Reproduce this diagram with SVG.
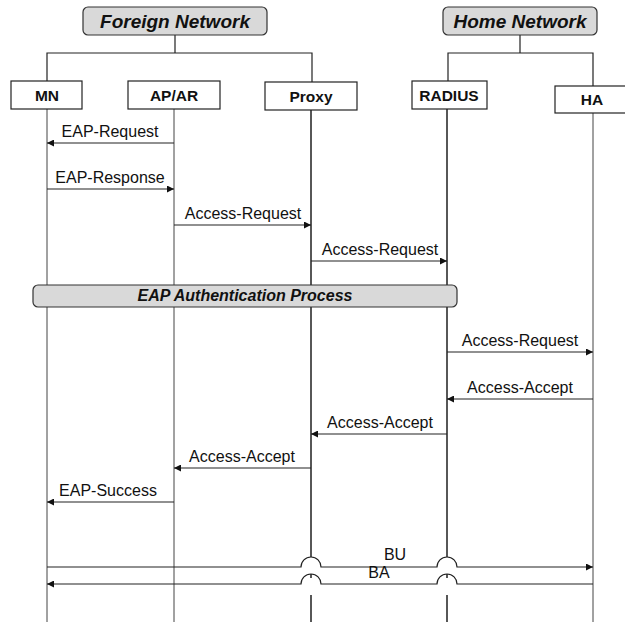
<svg xmlns="http://www.w3.org/2000/svg" width="625" height="622" viewBox="0 0 625 622">
<defs>
<marker id="ah" viewBox="0 0 10 10" refX="10" refY="5" markerWidth="8" markerHeight="7" markerUnits="userSpaceOnUse" orient="auto">
<path d="M0,0 L10,5 L0,10 z" fill="#111"/>
</marker>
<style>
.title{fill:#d9d9d9;stroke:#333;stroke-width:1.2}
.node{fill:#fff;stroke:#222;stroke-width:1.2}
.tt{font-family:"Liberation Sans",Arial,sans-serif;font-weight:bold;font-style:italic;font-size:19px;fill:#111;text-anchor:middle}
.nt{font-family:"Liberation Sans",Arial,sans-serif;font-weight:bold;font-size:15.5px;fill:#111;text-anchor:middle}
.ml{font-family:"Liberation Sans",Arial,sans-serif;font-size:16px;fill:#111;text-anchor:middle}
.ln{stroke:#222;stroke-width:1.2;fill:none}
.life{stroke:#444;stroke-width:1;fill:none}
.lifes{stroke:#111;stroke-width:1.4;fill:none}
.msg{stroke:#222;stroke-width:1.2;fill:none;marker-end:url(#ah)}
</style>
</defs>
<rect width="625" height="622" fill="#fff"/>

<g id="hierarchy">
<path class="ln" d="M175,35 V53 M47,81 V53 H312 V82"/>
<path class="ln" d="M520,35 V53 M448,81 V53 H593 V86"/>
</g>

<g id="lifelines">
<line class="life" x1="47" y1="109" x2="47" y2="622"/>
<line class="life" x1="174" y1="109" x2="174" y2="622"/>
<path class="lifes" d="M311,110 V557 M311,578 V574 M311,595 V622"/>
<path class="lifes" d="M447,109 V557 M447,578 V574 M447,595 V622"/>
<line class="life" x1="593" y1="113" x2="593" y2="622"/>
</g>

<g id="foreign-network">
<rect class="title" x="83" y="7" width="184" height="28" rx="5"/>
<text class="tt" x="175" y="28">Foreign Network</text>
</g>
<g id="home-network">
<rect class="title" x="443" y="7" width="154" height="28" rx="5"/>
<text class="tt" x="520" y="28">Home Network</text>
</g>

<g id="MN">
<rect class="node" x="11" y="81" width="71" height="28"/>
<text class="nt" x="47" y="101">MN</text>
</g>
<g id="APAR">
<rect class="node" x="128" y="81" width="92" height="28"/>
<text class="nt" x="174" y="101">AP/AR</text>
</g>
<g id="Proxy">
<rect class="node" x="265" y="82" width="92" height="28"/>
<text class="nt" x="311" y="102">Proxy</text>
</g>
<g id="RADIUS">
<rect class="node" x="412" y="81" width="75" height="28"/>
<text class="nt" x="449" y="101">RADIUS</text>
</g>
<g id="HA">
<rect class="node" x="555" y="86" width="75" height="27"/>
<text class="nt" x="592" y="105">HA</text>
</g>

<g id="eap-auth">
<rect class="title" x="33" y="285" width="424" height="22" rx="5"/>
<text class="nt" x="245" y="301" style="font-style:italic;font-size:16px">EAP Authentication Process</text>
</g>

<g id="connectors">
<line class="msg" x1="174" y1="143" x2="47" y2="143"/>
<line class="msg" x1="47" y1="189" x2="174" y2="189"/>
<line class="msg" x1="174" y1="225" x2="311" y2="225"/>
<line class="msg" x1="311" y1="261" x2="447" y2="261"/>
<line class="msg" x1="447" y1="352" x2="593" y2="352"/>
<line class="msg" x1="593" y1="399" x2="447" y2="399"/>
<line class="msg" x1="447" y1="434" x2="311" y2="434"/>
<line class="msg" x1="311" y1="468" x2="174" y2="468"/>
<line class="msg" x1="174" y1="502" x2="47" y2="502"/>
<path class="msg" d="M47,567 H301 A10,10 0 0 1 321,567 H437 A10,10 0 0 1 457,567 H593"/>
<path class="msg" d="M593,584 H457 A10,10 0 0 0 437,584 H321 A10,10 0 0 0 301,584 H47"/>
</g>

<g id="labels">
<text class="ml" x="110" y="137">EAP-Request</text>
<text class="ml" x="110" y="183">EAP-Response</text>
<text class="ml" x="243" y="219">Access-Request</text>
<text class="ml" x="380" y="255">Access-Request</text>
<text class="ml" x="520" y="346">Access-Request</text>
<text class="ml" x="520" y="393">Access-Accept</text>
<text class="ml" x="380" y="428">Access-Accept</text>
<text class="ml" x="242" y="462">Access-Accept</text>
<text class="ml" x="108" y="496">EAP-Success</text>
<text class="ml" x="395" y="560">BU</text>
<text class="ml" x="379" y="578">BA</text>
</g>
</svg>
